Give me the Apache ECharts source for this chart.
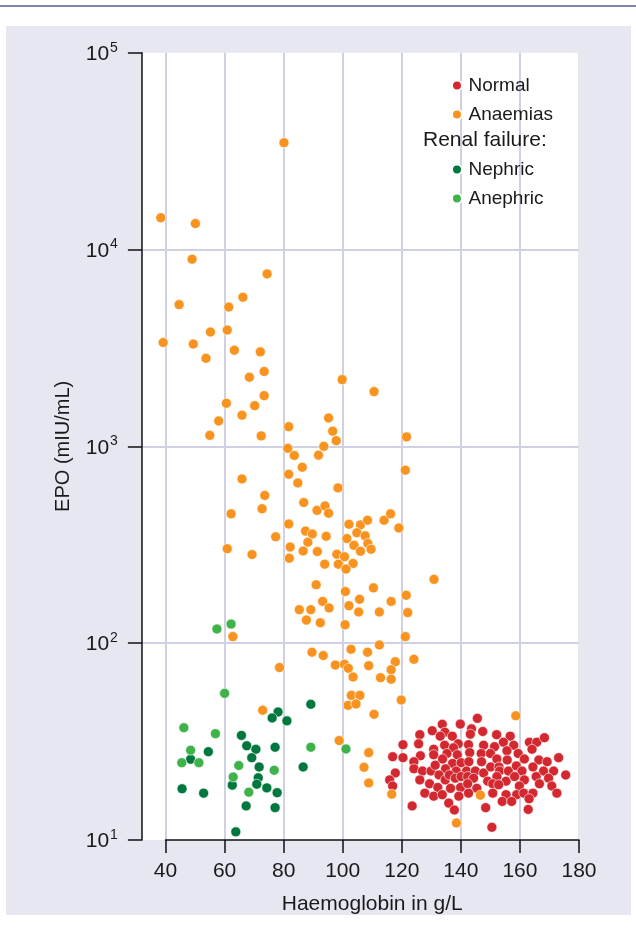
<!DOCTYPE html>
<html><head><meta charset="utf-8">
<script src="https://cdn.jsdelivr.net/npm/echarts@6/dist/echarts.min.js"></script>
<style>html,body{margin:0;padding:0;background:#fff}#c{width:636px;height:930px}</style>
</head><body><div id="c"></div>
<script>
const seriesNames = ['Normal', 'Anaemias', 'Nephric', 'Anephric'];
const seriesColors = ['#d3282f', '#f7931e', '#00773d', '#3fb34a'];
const legendHeading = 'Renal failure:';
const xName = 'Haemoglobin in g/L';
const yName = 'EPO (mIU/mL)';

const normal = [
[145.6,41.5],[139.8,38.8],[133.7,38.7],[130.3,35.9],[126.1,34.3],[134.6,35.3],[133.0,33.7],[137.1,33.7],
[143.6,36.7],[143.2,34.5],[147.4,35.6],[152.1,34.3],[156.7,33.7],[154.4,31.4],[157.9,30.3],[163.2,31.4],
[165.7,31.4],[168.3,33.1],[164.1,28.9],[120.4,30.5],[125.7,30.8],[130.8,28.9],[134.5,30.3],[139.1,30.8],
[137.5,29.4],[142.6,30.5],[147.7,30.3],[151.4,29.8],[116.9,26.5],[120.4,26.2],[126.3,26.8],[130.8,27.1],
[135.3,27.5],[138.8,27.1],[143.0,27.8],[146.9,27.5],[150.0,27.5],[155.6,28.4],[159.4,27.5],[124.1,25.0],
[133.8,25.8],[137.2,24.5],[140.1,24.7],[142.7,25.0],[147.0,25.0],[152.2,25.8],[155.7,25.5],[161.5,25.8],
[166.4,25.5],[169.2,25.0],[173.1,26.2],[117.8,21.9],[124.1,23.0],[127.0,22.4],[129.9,22.4],[131.3,24.0],
[134.8,23.0],[138.4,22.4],[141.9,22.4],[144.9,22.4],[147.7,21.9],[150.1,23.5],[152.9,23.5],[153.1,22.4],
[156.1,22.4],[158.8,23.8],[160.7,22.4],[164.4,23.5],[168.0,22.4],[171.4,22.4],[175.5,21.4],[115.9,20.2],
[116.9,18.8],[126.1,20.2],[132.6,21.4],[134.7,20.2],[136.1,21.4],[138.1,20.6],[140.1,21.0],[142.3,21.0],
[144.3,20.6],[149.1,19.9],[152.2,21.0],[155.3,19.9],[158.2,21.0],[161.5,20.2],[165.5,21.0],[169.7,20.6],
[129.4,19.3],[132.2,18.5],[136.5,18.3],[139.9,18.5],[142.3,19.3],[145.4,18.3],[150.8,19.3],[152.8,19.1],
[159.8,18.8],[166.6,19.3],[170.8,18.8],[127.8,17.3],[130.8,16.7],[133.7,17.0],[139.3,16.7],[142.6,17.3],
[150.8,17.3],[155.3,17.0],[158.9,17.0],[161.3,17.3],[164.4,17.3],[172.5,17.3],[163.1,16.2],[154.0,15.7],
[157.2,15.7],[135.9,15.4],[137.8,14.2],[123.5,14.9],[148.4,14.6],[162.8,14.3],[150.5,11.6]
];

const anaemias = [
[80.1,34900],[38.4,14500],[50.1,13550],[49.0,8930],[74.4,7520],[66.2,5720],[44.6,5250],[61.4,5100],
[55.2,3810],[60.9,3900],[39.2,3370],[49.4,3310],[53.7,2800],[63.3,3080],[72.1,3020],[73.4,2400],
[68.4,2245],[73.4,1810],[60.6,1655],[70.2,1610],[65.9,1440],[58.0,1346],[55.0,1137],[72.4,1130],
[81.7,1259],[81.4,977],[83.6,898],[99.8,2183],[110.6,1897],[95.2,1393],[96.6,1194],[97.8,1069],
[93.6,1000],[91.8,902],[121.6,1117],[86.3,783],[81.7,721],[84.8,652],[121.2,757],[98.4,615],
[73.6,563],[72.7,482],[86.8,518],[91.3,473],[94.0,498],[95.2,457],[81.7,403],[77.3,347],
[87.4,371],[89.7,359],[88.2,326],[94.4,349],[82.2,308],[86.6,294],[91.4,292],[81.9,270],
[102.1,402],[106.0,399],[108.4,421],[114.0,421],[116.2,454],[119.0,385],[104.8,364],[107.6,351],
[101.4,340],[103.8,314],[108.5,321],[109.6,300],[106.0,293],[98.0,283],[100.6,275],[93.9,252],
[98.5,252],[103.5,254],[101.1,238],[130.9,211],[91.0,198],[100.9,183],[110.4,191],[121.5,175],
[93.2,163],[105.7,167],[116.4,163],[85.3,148],[89.2,148],[95.4,151],[102.1,155],[105.4,144],
[112.4,144],[122.0,143],[87.7,131],[92.4,127],[100.8,124],[121.2,108],[89.6,90.0],[93.4,86.5],
[102.8,93.1],[108.4,90.0],[112.4,97.9],[117.8,80.5],[124.1,82.8],[97.5,77.4],[100.6,78.1],[101.9,74.5],
[108.8,76.9],[116.4,73.3],[103.5,67.3],[112.8,66.8],[116.4,65.6],[78.6,75.2],[102.9,54.3],[105.8,54.3],
[101.8,48.3],[104.5,49.1],[119.8,51.4],[110.6,43.5],[72.9,45.6],[158.6,42.8],[65.9,683],[62.2,454],
[60.9,302],[69.3,282],[62.8,108],[98.8,32.0],[107.2,23.4],[108.8,27.8],[108.8,19.5],[116.6,17.1],
[146.6,16.9],[138.5,12.2]
];

const nephric = [
[78.1,44.7],[76.1,41.7],[81.1,40.3],[89.2,48.9],[65.7,34.0],[67.5,30.1],[70.6,28.9],[77.1,29.6],
[54.5,28.1],[48.5,25.7],[69.2,26.2],[71.7,23.5],[86.6,23.5],[71.4,20.7],[62.6,19.0],[70.9,19.2],
[74.3,18.4],[77.8,17.4],[45.6,18.2],[52.9,17.3],[67.3,14.9],[77.1,14.6],[63.8,11.0]
];

const anephric = [
[60.0,55.6],[46.2,37.2],[56.9,34.7],[48.5,28.6],[45.5,24.7],[51.3,24.7],[64.8,23.9],[76.8,22.6],
[62.9,20.9],[68.2,17.5],[89.2,29.6],[101.1,29.0],[62.2,125],[57.4,118]
];

const xTickMin = 40, xTickMax = 180, xTickStep = 20;
const xDataMin = 32;
const yMin = 10, yMax = 100000;

const FONT = '"Liberation Sans", Arial, Helvetica, sans-serif';
const chart = echarts.init(document.getElementById('c'), null, {renderer: 'canvas'});
const dataSets = [normal, anaemias, nephric, anephric];

const legendText = {fontSize: 19, fontFamily: FONT, color: '#1a1a1a', lineHeight: 21};
const option = {
  animation: false,
  textStyle: {fontFamily: FONT, color: '#1a1a1a'},
  graphic: [
    {type: 'rect', z: -20, silent: true, shape: {x: 0, y: 5, width: 636, height: 2}, style: {fill: '#7f87a7'}},
    {type: 'rect', z: -20, silent: true, shape: {x: 6, y: 26, width: 625, height: 889}, style: {fill: '#e6e7f0'}},
    {type: 'rect', z: -15, silent: true, shape: {x: 142, y: 52.7, width: 436, height: 787.3}, style: {fill: '#ffffff'}},
    {type: 'text', z: 10, left: 423, top: 130, style: {text: legendHeading, font: '21px ' + FONT, fill: '#1a1a1a'}}
  ],
  legend: [
    {data: seriesNames.slice(0, 2), orient: 'vertical', left: 446, top: 70, icon: 'circle',
     itemWidth: 13, itemHeight: 10, itemGap: 8, textStyle: legendText},
    {data: seriesNames.slice(2), orient: 'vertical', left: 446, top: 154, icon: 'circle',
     itemWidth: 13, itemHeight: 10, itemGap: 8, textStyle: legendText}
  ],
  grid: [
    {left: 141.9, right: 57, top: 52.7, bottom: 90, containLabel: false},
    {left: 165.5, right: 57, top: 52.7, bottom: 90, containLabel: false}
  ],
  xAxis: [
    {gridIndex: 0, type: 'value', min: xDataMin, max: xTickMax, show: false},
    {gridIndex: 1, type: 'value', min: xTickMin, max: xTickMax, interval: xTickStep,
     name: xName, nameLocation: 'middle', nameGap: 54,
     nameTextStyle: {fontSize: 21, fontFamily: FONT, color: '#1a1a1a'},
     axisLine: {show: true, lineStyle: {color: '#111', width: 1.5}},
     axisTick: {show: true, length: 13, lineStyle: {color: '#111', width: 1.5}},
     axisLabel: {fontSize: 21, fontFamily: FONT, color: '#1a1a1a', margin: 21},
     splitLine: {show: true, showMinLine: true, showMaxLine: false, lineStyle: {color: '#cfd0e1', width: 2}}}
  ],
  yAxis: [
    {gridIndex: 0, type: 'log', logBase: 10, min: yMin, max: yMax,
     name: yName, nameLocation: 'middle', nameGap: 68,
     nameTextStyle: {fontSize: 20, fontFamily: FONT, color: '#1a1a1a'},
     axisLine: {show: true, lineStyle: {color: '#111', width: 1.5}},
     axisTick: {show: true, length: 14, lineStyle: {color: '#111', width: 1.5}},
     axisLabel: {margin: 24, fontFamily: FONT, color: '#1a1a1a',
       formatter: v => '{b|10}{s|' + Math.round(Math.log10(v)) + '}',
       rich: {b: {fontSize: 21, fontFamily: FONT, color: '#1a1a1a', verticalAlign: 'bottom', lineHeight: 24},
              s: {fontSize: 14, fontFamily: FONT, color: '#1a1a1a', verticalAlign: 'top', lineHeight: 24, padding: [0, 0, 0, 1]}}},
     splitLine: {show: true, showMinLine: false, showMaxLine: false, lineStyle: {color: '#cfd0e1', width: 2}}},
    {gridIndex: 1, type: 'value', show: false, min: 0, max: 1}
  ],
  series: seriesNames.map((n, i) => ({
    name: n, type: 'scatter', xAxisIndex: 0, yAxisIndex: 0,
    symbol: 'circle', symbolSize: 10,
    itemStyle: {color: seriesColors[i], opacity: 1, borderColor: '#ffffff', borderWidth: 0.6},
    data: dataSets[i]
  }))
};
chart.setOption(option);
</script></body></html>
